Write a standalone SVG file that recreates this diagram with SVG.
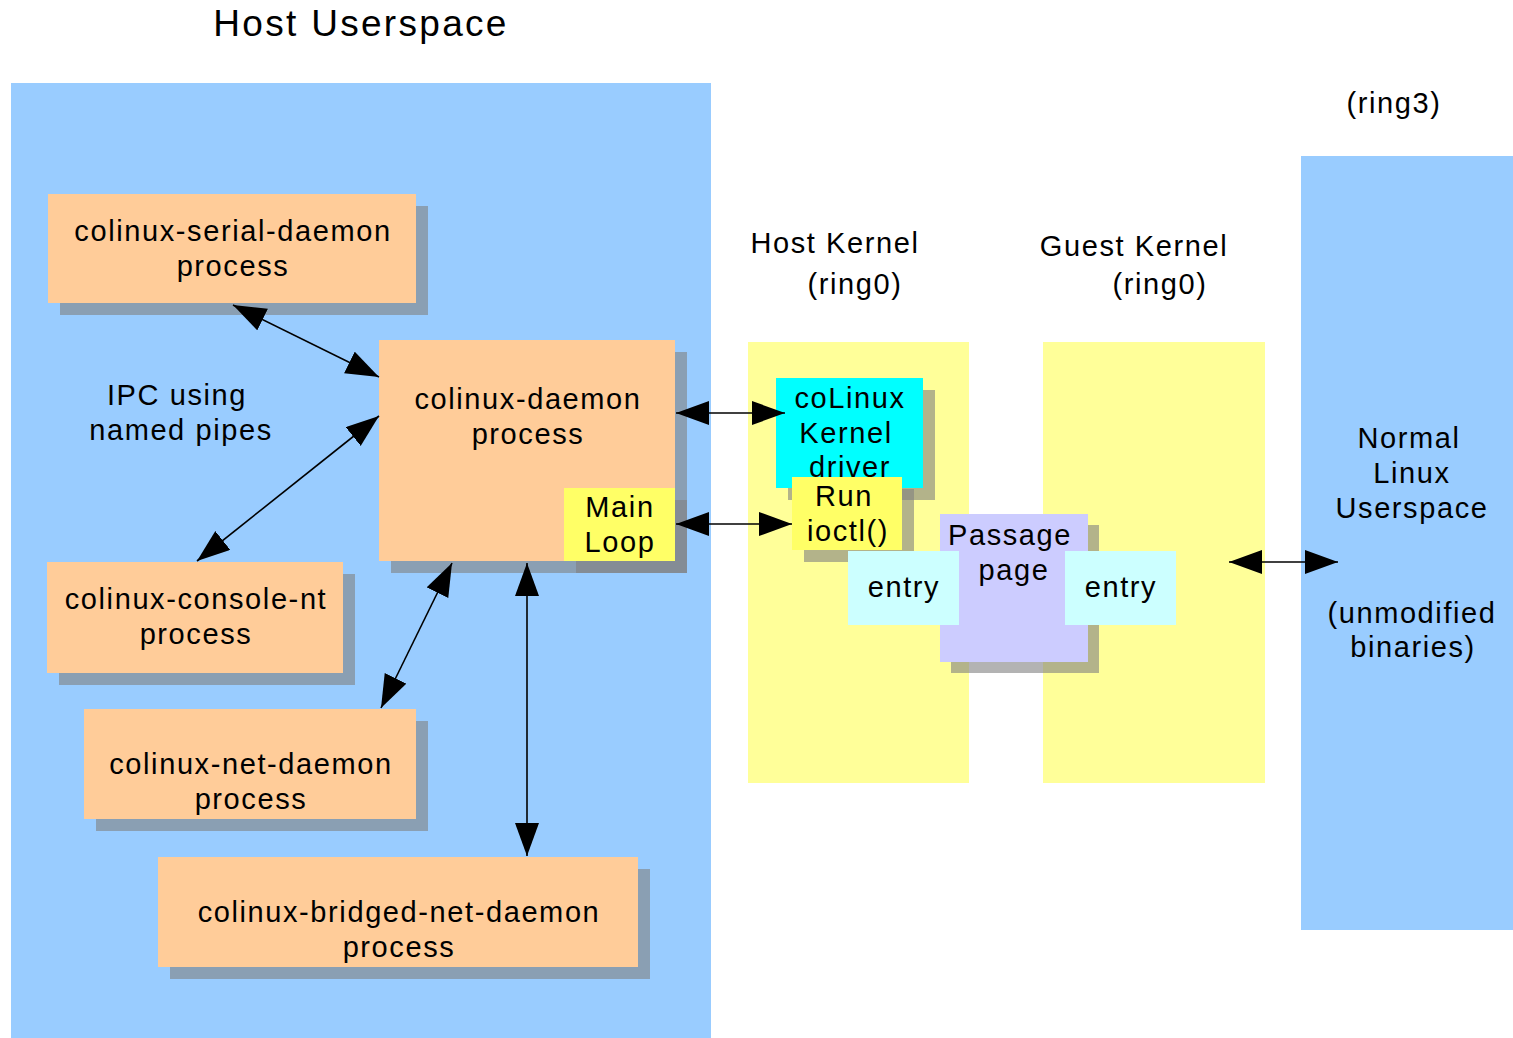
<svg xmlns="http://www.w3.org/2000/svg" width="1513" height="1038" viewBox="0 0 1513 1038">
<defs>
<style>
text{font-family:"Liberation Sans",Arial,sans-serif;font-size:29px;fill:#000;text-anchor:middle;letter-spacing:1.6px}
.title{font-size:37px;letter-spacing:2.3px}
.sh{fill:#808080;fill-opacity:0.6}
.proc{fill:#ffcc99}
.yel{fill:#ffff66}
.cn{stroke:#000;stroke-width:1.6;fill:none;marker-start:url(#ah);marker-end:url(#ah)}
</style>
<marker id="ah" markerUnits="userSpaceOnUse" markerWidth="36" markerHeight="26" refX="33" refY="12" orient="auto-start-reverse">
<path d="M0,0 L33,12 L0,24 Z" fill="#000"/>
</marker>
</defs>
<rect width="1513" height="1038" fill="#fff"/>
<g id="regions">
<rect x="11" y="83" width="700" height="955" fill="#99ccff"/>
<rect x="1301" y="156" width="212" height="774" fill="#99ccff"/>
<rect x="748" y="342" width="221" height="441" fill="#ffff99"/>
<rect x="1043" y="342" width="222" height="441" fill="#ffff99"/>
</g>
<g id="labels">
<text class="title" x="361" y="36">Host Userspace</text>
<text x="835" y="253">Host Kernel</text>
<text x="855" y="294">(ring0)</text>
<text x="1134" y="256">Guest Kernel</text>
<text x="1160" y="294">(ring0)</text>
<text x="1394" y="113">(ring3)</text>
<text x="177" y="405">IPC using</text>
<text x="181" y="440">named pipes</text>
<text x="1409" y="448">Normal</text>
<text x="1412" y="483">Linux</text>
<text x="1412" y="518">Userspace</text>
<text x="1412" y="623">(unmodified</text>
<text x="1413" y="657">binaries)</text>
</g>
<g id="serial">
<rect class="sh" x="60" y="206" width="368" height="109"/>
<rect class="proc" x="48" y="194" width="368" height="109"/>
<text x="233" y="241">colinux-serial-daemon</text>
<text x="233" y="276">process</text>
</g>
<g id="daemon">
<rect class="sh" x="391" y="352" width="296" height="221"/>
<rect class="proc" x="379" y="340" width="296" height="221"/>
<text x="528" y="409">colinux-daemon</text>
<text x="528" y="444">process</text>
</g>
<g id="mainloop">
<rect class="sh" x="576" y="500" width="111" height="73"/>
<rect class="yel" x="564" y="488" width="111" height="73"/>
<text x="620" y="517">Main</text>
<text x="620" y="552">Loop</text>
</g>
<g id="console">
<rect class="sh" x="59" y="574" width="296" height="111"/>
<rect class="proc" x="47" y="562" width="296" height="111"/>
<text x="196" y="609">colinux-console-nt</text>
<text x="196" y="644">process</text>
</g>
<g id="net">
<rect class="sh" x="96" y="721" width="332" height="110"/>
<rect class="proc" x="84" y="709" width="332" height="110"/>
<text x="251" y="774">colinux-net-daemon</text>
<text x="251" y="809">process</text>
</g>
<g id="bridged">
<rect class="sh" x="170" y="869" width="480" height="110"/>
<rect class="proc" x="158" y="857" width="480" height="110"/>
<text x="399" y="922">colinux-bridged-net-daemon</text>
<text x="399" y="957">process</text>
</g>
<g id="kdriver">
<rect class="sh" x="788" y="390" width="147" height="110"/>
<rect x="776" y="378" width="147" height="110" fill="#00ffff"/>
<text x="850" y="408">coLinux</text>
<text x="846" y="443">Kernel</text>
<text x="850" y="477">driver</text>
</g>
<g id="runioctl">
<rect class="sh" x="804" y="489" width="110" height="73"/>
<rect class="yel" x="792" y="477" width="110" height="73"/>
<text x="844" y="506">Run</text>
<text x="848" y="541">ioctl()</text>
</g>
<g id="passage">
<rect class="sh" x="951" y="525" width="148" height="148"/>
<rect x="940" y="514" width="148" height="148" fill="#ccccff"/>
<text x="1010" y="545">Passage</text>
<text x="1014" y="580">page</text>
</g>
<g id="entry1">
<rect x="848" y="551" width="111" height="74" fill="#ccffff"/>
<text x="904" y="597">entry</text>
</g>
<g id="entry2">
<rect x="1065" y="551" width="111" height="74" fill="#ccffff"/>
<text x="1121" y="597">entry</text>
</g>
<g id="connectors">
<line class="cn" x1="233" y1="305" x2="379" y2="377"/>
<line class="cn" x1="197" y1="561" x2="379" y2="416"/>
<line class="cn" x1="381" y1="708" x2="452" y2="563"/>
<line class="cn" x1="527" y1="563" x2="527" y2="856"/>
<line class="cn" x1="676" y1="413" x2="785" y2="413"/>
<line class="cn" x1="676" y1="524" x2="792" y2="524"/>
<line class="cn" x1="1229" y1="562" x2="1338" y2="562"/>
</g>
</svg>
